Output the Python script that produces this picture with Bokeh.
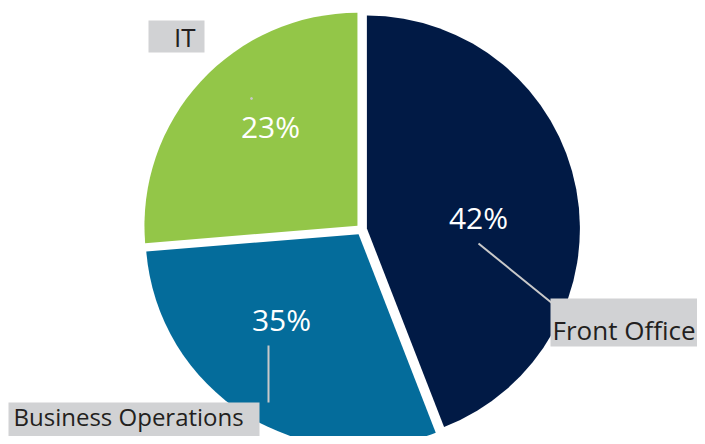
import numpy as np
from bokeh.plotting import figure
from bokeh.models import Range1d
from bokeh.core.properties import value
from bokeh.embed import file_html
from bokeh.resources import INLINE

# ---- data ----
categories = ["Front Office", "Business Operations", "IT"]
pct_labels = ["42%", "35%", "23%"]
# slice sizes as drawn in the reference (angles)
slice_shares = [44.1, 29.6, 26.3]

# ---- styles / layout (picture px, origin top-left) ----
colors = ["#011a45", "#046c9b", "#93c648"]
box_color = "#d1d2d4"
text_color = "#231f20"
leader_color = "#c9c9c9"
FONT = "Open Sans"

W, H = 697, 436


def sy(y):
    return H - y


p = figure(width=W, height=H, x_range=Range1d(0, W), y_range=Range1d(0, H),
           output_backend="svg", toolbar_location=None,
           x_axis_type=None, y_axis_type=None, min_border=0)
p.grid.visible = False
p.outline_line_color = None

cx, cy = 361, sy(229)
R = 213
explode = 5.5

shares = np.array(slice_shares, dtype=float)
frac = shares / shares.sum()
cum = np.concatenate([[0.0], np.cumsum(frac)])
start = np.pi / 2 - cum[:-1] * 2 * np.pi
end = np.pi / 2 - cum[1:] * 2 * np.pi
mid = (start + end) / 2
xs = cx + explode * np.cos(mid)
ys = cy + explode * np.sin(mid)

p.wedge(x=xs, y=ys, radius=R, start_angle=start, end_angle=end,
        direction="clock", fill_color=colors, line_color=None)

# percentage labels (positions per slice: FO, BO, IT)
pct_pos = [(478, 217), (281, 319), (270, 126)]
p.text(x=[q[0] for q in pct_pos], y=[sy(q[1]) for q in pct_pos], text=pct_labels,
       text_color="white", text_font=value(FONT), text_font_size="30px",
       text_align="center", text_baseline="middle")

# leader lines
p.segment(x0=[478, 268], y0=[sy(243), sy(345)], x1=[552, 268], y1=[sy(303), sy(402)],
          line_color=leader_color, line_width=2)
p.scatter(x=[251], y=[sy(98)], size=2, color=leader_color)

# category label boxes (FO, BO, IT)
boxes = [(550, 697, 298, 346), (8, 259, 402, 436), (148, 204, 20, 52)]
p.quad(left=[b[0] for b in boxes], right=[b[1] for b in boxes],
       top=[sy(b[2]) for b in boxes], bottom=[sy(b[3]) for b in boxes],
       fill_color=box_color, line_color=None)

p.text(x=[552], y=[sy(329)], text=[categories[0]], text_color=text_color,
       text_font=value(FONT), text_font_size="26px", text_align="left", text_baseline="middle")
p.text(x=[13], y=[sy(416)], text=[categories[1]], text_color=text_color,
       text_font=value(FONT), text_font_size="24px", text_align="left", text_baseline="middle")
p.text(x=[195], y=[sy(36)], text=[categories[2]], text_color=text_color,
       text_font=value(FONT), text_font_size="26px", text_align="right", text_baseline="middle")

open("out.html", "w").write(file_html(p, INLINE))
